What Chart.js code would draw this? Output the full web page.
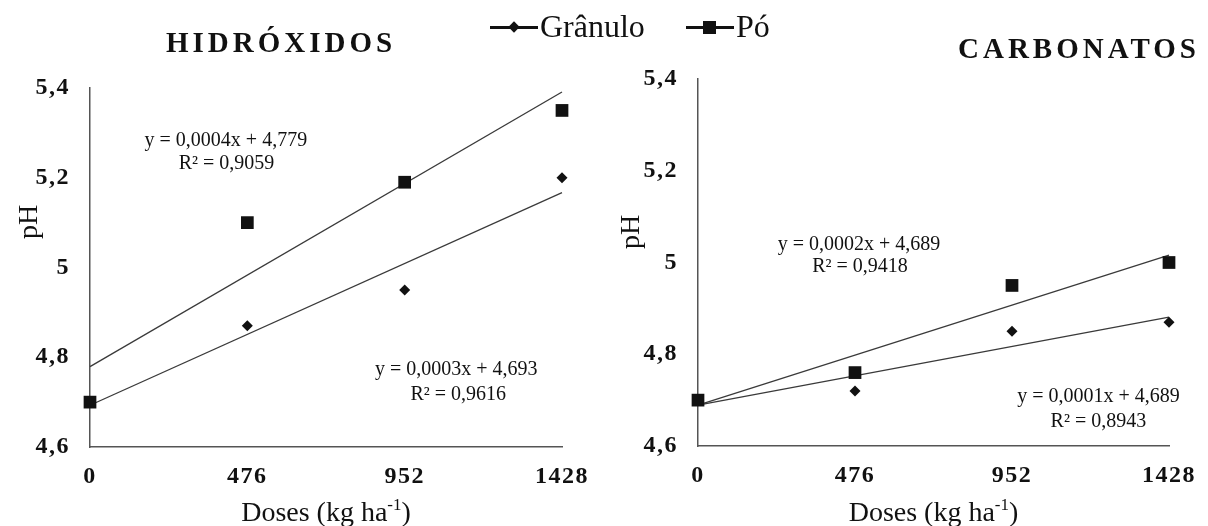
<!DOCTYPE html>
<html>
<head>
<meta charset="utf-8">
<script src="https://cdn.jsdelivr.net/npm/chart.js@4.4.1/dist/chart.umd.min.js"></script>
<style>
  body { margin: 0; background: #fff; }
  #wrap { position: relative; width: 1208px; height: 526px; font-family: "Liberation Serif", "Times New Roman", serif; color: #111; overflow: hidden; }
  canvas { position: absolute; top: 0; }
  .title { position: absolute; font-weight: bold; font-size: 29px; letter-spacing: 4px; transform: translate(-50%, -50%); white-space: nowrap; }
  .leg { position: absolute; top: 8px; font-size: 32px; display: flex; align-items: center; white-space: nowrap; }
  .mk { position: relative; display: inline-block; width: 48px; height: 20px; margin-right: 2px; }
  .mk::before { content: ''; position: absolute; left: 0; right: 0; top: 9px; height: 3px; background: #111; }
  .dia { position: absolute; left: 20px; top: 6px; width: 8px; height: 8px; background: #111; transform: rotate(45deg); }
  .sq { position: absolute; left: 17px; top: 4px; width: 13px; height: 13px; background: #111; }
</style>
</head>
<body>
<div id="wrap">
  <canvas id="hidChart" width="604" height="526" style="left:0"></canvas>
  <canvas id="carbChart" width="604" height="526" style="left:604px"></canvas>
  <div class="title" style="left:281px; top:42px">HIDRÓXIDOS</div>
  <div class="title" style="left:1079px; top:48px">CARBONATOS</div>
  <div class="leg" style="left:490px"><span class="mk"><i class="dia"></i></span>Grânulo</div>
  <div class="leg" style="left:686px"><span class="mk"><i class="sq"></i></span>Pó</div>
</div>
<script>
const doses = [0, 476, 952, 1428];
const yTicks = [4.6, 4.8, 5.0, 5.2, 5.4];

const hidGranulo = [4.70, 4.87, 4.95, 5.20];
const hidPo = [4.70, 5.10, 5.19, 5.35];
const carbGranulo = [4.70, 4.72, 4.85, 4.87];
const carbPo = [4.70, 4.76, 4.95, 5.00];

// trend line values at dose 0 and dose 1428
const hidGranuloTrend = [4.693, 5.167];
const hidPoTrend = [4.779, 5.391];
const carbGranuloTrend = [4.689, 4.881];
const carbPoTrend = [4.689, 5.016];

const hidEqPo = ['y = 0,0004x + 4,779', 'R² = 0,9059'];
const hidEqGranulo = ['y = 0,0003x + 4,693', 'R² = 0,9616'];
const carbEqPo = ['y = 0,0002x + 4,689', 'R² = 0,9418'];
const carbEqGranulo = ['y = 0,0001x + 4,689', 'R² = 0,8943'];

const FONT = '"Liberation Serif", "Times New Roman", serif';
Chart.defaults.font.family = FONT;
Chart.defaults.color = '#111';

function pts(vals) {
    return vals.map((v, i) => ({ x: doses[i], y: v }));
}
function trend(ends) {
    return [{ x: doses[0], y: ends[0] }, { x: doses[doses.length - 1], y: ends[1] }];
}

// equation texts, axis titles
const textPlugin = {
    id: 'texts',
    beforeDraw(chart) {
        chart.ctx.letterSpacing = '1.5px';
    },
    afterDraw(chart) {
        const o = chart.options.plugins.texts;
        const { ctx, chartArea } = chart;
        const sx = chart.scales.x, sy = chart.scales.y;
        ctx.save();
        ctx.letterSpacing = '0px';
        ctx.fillStyle = '#111';
        ctx.textAlign = 'center';
        ctx.textBaseline = 'middle';
        ctx.font = '20px ' + FONT;
        o.notes.forEach(n => {
            ctx.fillText(n.text, sx.getPixelForValue(n.x), sy.getPixelForValue(n.y));
        });

        // pH
        ctx.save();
        ctx.font = '28px ' + FONT;
        ctx.translate(o.phX, o.phY);
        ctx.rotate(-Math.PI / 2);
        ctx.fillText('pH', 0, 0);
        ctx.restore();

        // Doses (kg ha-1)
        const a = 'Doses (kg ha', sup = '-1', b = ')';
        ctx.textAlign = 'left';
        ctx.textBaseline = 'alphabetic';
        ctx.font = '28px ' + FONT;
        const wa = ctx.measureText(a).width, wb = ctx.measureText(b).width;
        ctx.font = '17px ' + FONT;
        const ws = ctx.measureText(sup).width;
        let x0 = (chartArea.left + chartArea.right) / 2 - (wa + ws + wb) / 2;
        const base = 521;
        ctx.font = '28px ' + FONT;
        ctx.fillText(a, x0, base);
        ctx.font = '17px ' + FONT;
        ctx.fillText(sup, x0 + wa, base - 11);
        ctx.font = '28px ' + FONT;
        ctx.fillText(b, x0 + wa + ws, base);
        ctx.restore();
    }
};

function makeChart(id, granulo, po, granuloTrend, poTrend, layout, texts) {
    return new Chart(document.getElementById(id), {
        type: 'scatter',
        data: {
            datasets: [
                { label: 'Pó', data: pts(po), pointStyle: 'rect', pointRadius: 9,
                  backgroundColor: '#111', borderColor: '#111', borderWidth: 0, clip: false, order: 0 },
                { label: 'Grânulo', data: pts(granulo), pointStyle: 'rectRot', pointRadius: 5.5,
                  backgroundColor: '#111', borderColor: '#111', borderWidth: 0, clip: false, order: 1 },
                { type: 'line', label: 'tPo', data: trend(poTrend), borderColor: '#3a3a3a', borderWidth: 1.3,
                  pointRadius: 0, fill: false, clip: false, order: 2 },
                { type: 'line', label: 'tGr', data: trend(granuloTrend), borderColor: '#3a3a3a', borderWidth: 1.3,
                  pointRadius: 0, fill: false, clip: false, order: 3 }
            ]
        },
        options: {
            responsive: false,
            animation: false,
            layout: { padding: { top: layout.top, right: layout.right, left: 0, bottom: 0 } },
            plugins: { legend: { display: false }, tooltip: { enabled: false }, texts: texts },
            scales: {
                x: {
                    type: 'linear', min: 0, max: 1428,
                    afterBuildTicks: s => { s.ticks = doses.map(v => ({ value: v })); },
                    afterFit: s => { s.height = layout.xh; },
                    grid: { display: false, drawTicks: false },
                    border: { display: true, color: '#555', width: 1.5 },
                    ticks: { padding: 15, color: '#111', maxRotation: 0, autoSkip: false,
                             font: { size: 24, weight: 'bold' }, callback: v => String(v) }
                },
                y: {
                    min: 4.6, max: 5.4,
                    afterBuildTicks: s => { s.ticks = yTicks.map(v => ({ value: v })); },
                    afterFit: s => { s.width = layout.yw; },
                    grid: { display: false, drawTicks: false },
                    border: { display: true, color: '#555', width: 1.5 },
                    ticks: { padding: 20, color: '#111', font: { size: 24, weight: 'bold' },
                             callback: v => String(Math.round(v * 10) / 10).replace('.', ',') }
                }
            }
        },
        plugins: [textPlugin]
    });
}

makeChart('hidChart', hidGranulo, hidPo, hidGranuloTrend, hidPoTrend,
    { top: 88, right: 42, xh: 79, yw: 90 },
    { phX: 30, phY: 222, notes: [
        { text: hidEqPo[0], x: 411, y: 5.282 },
        { text: hidEqPo[1], x: 413, y: 5.231 },
        { text: hidEqGranulo[0], x: 1108, y: 4.772 },
        { text: hidEqGranulo[1], x: 1114, y: 4.716 }
    ] });

makeChart('carbChart', carbGranulo, carbPo, carbGranuloTrend, carbPoTrend,
    { top: 79, right: 26, xh: 80, yw: 94 },
    { phX: 28, phY: 232, notes: [
        { text: carbEqPo[0], x: 488, y: 5.038 },
        { text: carbEqPo[1], x: 491, y: 4.990 },
        { text: carbEqGranulo[0], x: 1214, y: 4.707 },
        { text: carbEqGranulo[1], x: 1214, y: 4.652 }
    ] });
</script>
</body>
</html>
